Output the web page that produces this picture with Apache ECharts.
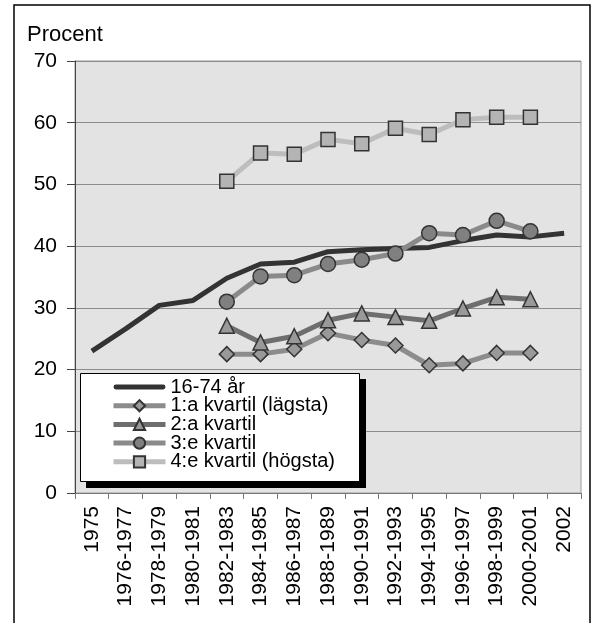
<!DOCTYPE html>
<html>
<head>
<meta charset="utf-8">
<script src="https://cdn.jsdelivr.net/npm/echarts@6/dist/echarts.min.js"></script>
<style>
html,body{margin:0;padding:0;background:#fff;}
#chart{width:595px;height:623px;}
</style>
</head>
<body>
<div id="chart"></div>
<script>
var categories = ['1975','1976-1977','1978-1979','1980-1981','1982-1983','1984-1985','1986-1987','1988-1989','1990-1991','1992-1993','1994-1995','1996-1997','1998-1999','2000-2001','2002'];
var total = [23.0, 26.6, 30.4, 31.2, 34.8, 37.1, 37.4, 39.1, 39.4, 39.6, 39.8, 40.9, 41.8, 41.5, 42.1];
var q1 = [null, null, null, null, 22.5, 22.5, 23.3, 25.9, 24.8, 23.9, 20.7, 21.0, 22.7, 22.7, null];
var q2 = [null, null, null, null, 27.1, 24.4, 25.4, 28.0, 29.1, 28.5, 27.9, 29.9, 31.7, 31.4, null];
var q3 = [null, null, null, null, 31.0, 35.1, 35.3, 37.1, 37.8, 38.8, 42.1, 41.8, 44.1, 42.4, null];
var q4 = [null, null, null, null, 50.5, 55.1, 54.9, 57.3, 56.6, 59.1, 58.1, 60.5, 60.9, 60.9, null];
var seriesNames = ['16-74 år', '1:a kvartil (lägsta)', '2:a kvartil', '3:e kvartil', '4:e kvartil (högsta)'];
var yTicks = [0, 10, 20, 30, 40, 50, 60, 70];

var FONT = 'Liberation Sans, Arial, sans-serif';
var chart = echarts.init(document.getElementById('chart'), null, {renderer: 'canvas'});

function mk(name, data, lineColor, symbol, size, fill) {
  return {
    name: name, type: 'line', data: data, connectNulls: false,
    symbol: symbol, symbolSize: size, showSymbol: symbol !== 'none',
    lineStyle: {color: lineColor, width: 5},
    itemStyle: {color: fill, borderColor: '#333', borderWidth: 1.5},
    emphasis: {disabled: true}, animation: false, z: 2
  };
}

var legendData = seriesNames.map(function (n, i) {
  if (i === 0) {
    return {name: n, icon: 'path://M2,0 L50,0 A2.5,2.5 0 0 1 50,5 L2,5 A2.5,2.5 0 0 1 2,0 Z', itemStyle: {color: '#333333', borderWidth: 0}};
  }
  return {name: n};
});

chart.setOption({
  animation: false,
  textStyle: {fontFamily: FONT},
  grid: {left: 75, top: 61, right: 14, bottom: 130, show: true, backgroundColor: '#e3e3e3', borderColor: '#9a9a9a', borderWidth: 1},
  xAxis: {
    type: 'category', data: categories, boundaryGap: true,
    axisLine: {lineStyle: {color: '#777', width: 1}},
    axisTick: {show: true, length: 6, lineStyle: {color: '#777'}},
    axisLabel: {rotate: 90, margin: 13, fontSize: 21, color: '#000', fontFamily: FONT, interval: 0}
  },
  yAxis: {
    type: 'value', min: yTicks[0], max: yTicks[yTicks.length - 1], interval: 10,
    axisLine: {show: true, lineStyle: {color: '#444', width: 1}},
    axisTick: {show: true, inside: false, length: 8, lineStyle: {color: '#444'}},
    axisLabel: {margin: 18, fontSize: 21, color: '#000', fontFamily: FONT},
    splitLine: {lineStyle: {color: '#8c8c8c', width: 1}}
  },
  legend: {
    orient: 'vertical', left: 80, top: 373,
    padding: [4, 20, 12, 31], itemGap: -1.3,
    itemWidth: 52, itemHeight: 14,
    backgroundColor: 'transparent', borderWidth: 0,
    lineStyle: {width: 5},
    textStyle: {fontSize: 20, color: '#000', fontFamily: FONT, lineHeight: 18.7},
    data: legendData, z: 10
  },
  graphic: [
    {type: 'text', left: 27, top: 24, style: {text: 'Procent', font: '22px ' + FONT, fill: '#000'}},
    {type: 'rect', shape: {x: 86, y: 379, width: 280, height: 109}, style: {fill: '#000'}, z: 5},
    {type: 'rect', shape: {x: 80.5, y: 373.5, width: 279, height: 108}, style: {fill: '#fff', stroke: '#000', lineWidth: 1}, z: 6},
    {type: 'rect', shape: {x: 14, y: 5, width: 576, height: 700}, style: {fill: 'none', stroke: '#000', lineWidth: 1.5}, z: 100}
  ],
  series: [
    mk(seriesNames[0], total, '#333333', 'none', 0, '#333333'),
    mk(seriesNames[1], q1, '#8c8c8c', 'diamond', 15, '#999999'),
    mk(seriesNames[2], q2, '#6e6e6e', 'triangle', 15, '#999999'),
    mk(seriesNames[3], q3, '#8a8a8a', 'circle', 15, '#808080'),
    mk(seriesNames[4], q4, '#bdbdbd', 'rect', 14, '#b4b4b4')
  ]
});
</script>
</body>
</html>
